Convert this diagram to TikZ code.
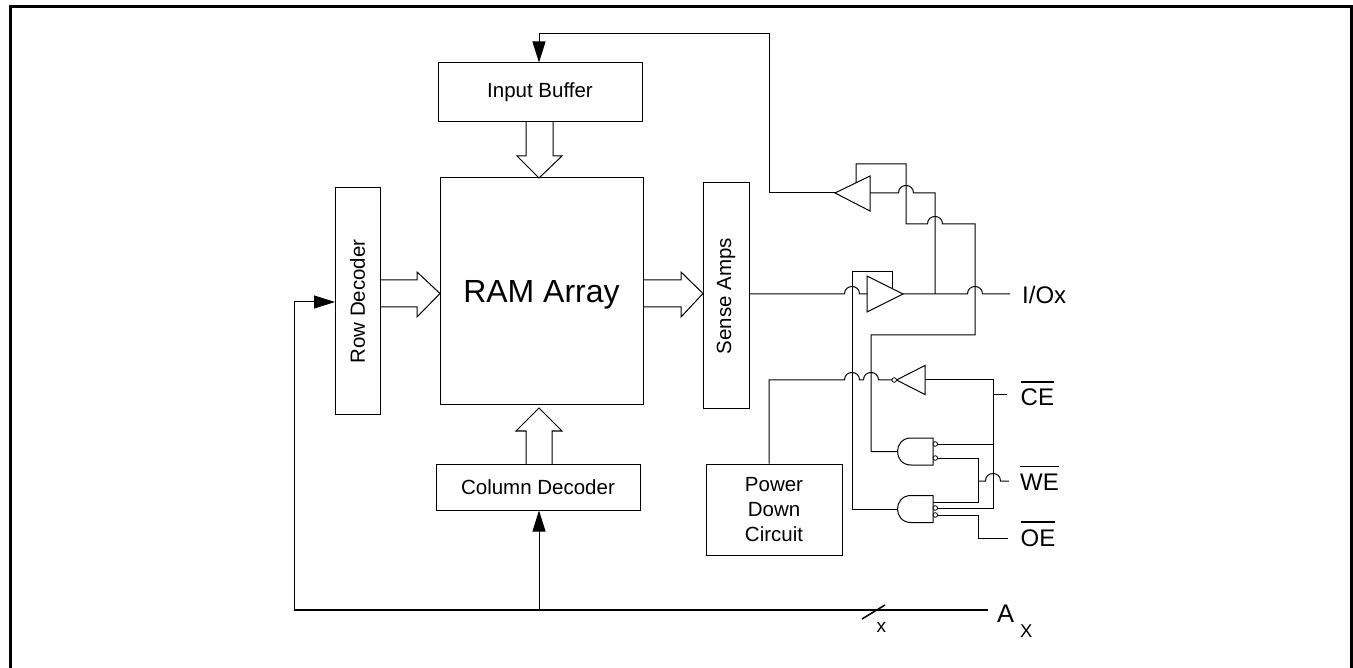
\documentclass[tikz,border=0pt]{standalone}
\usepackage{fontspec}
\setmainfont{Liberation Sans}
\usetikzlibrary{arrows.meta}
\newcommand\obar[1]{\vbox{\hrule height 1.3pt\kern 6.5pt\hbox{#1}}}
\tikzset{
  box/.style={draw, line width=1pt, inner sep=0pt, font=\fontsize{20.5}{25}\selectfont},
  wire/.style={draw, line width=1pt},
  hop/.style args={#1/#2}{insert path={-- ({#1-7.5},#2) .. controls ({#1-7.5},{#2-10}) and ({#1+7.5},{#2-10}) .. ({#1+7.5},#2)}},
  headarrow/.style={-{Triangle[length=21pt,width=13pt]}},
  bubble/.style={draw, fill=white, line width=0.8pt},
  lbl/.style={anchor=base west, inner sep=0pt, font=\fontsize{24}{28}\selectfont},
}
\begin{document}
\begin{tikzpicture}[x=1pt,y=-1pt]
\useasboundingbox (0,0) rectangle (1353,668);
% frame
\draw[line width=3pt] (10.5,668) -- (10.5,7) -- (1351.8,7) -- (1351.8,668);

% blocks
\node[box, minimum width=204pt, minimum height=59pt] (ib) at (540,92.5) {Input Buffer};
\node[box, minimum width=203pt, minimum height=227pt] (ram) at (541.5,291.5) {};
\node[anchor=base, inner sep=0pt, font=\fontsize{32}{36}\selectfont] (ramtxt) at (541.5,302.5) {RAM Array};
\node[box, rotate=90, minimum width=227pt, minimum height=45pt] (rd) at (357.5,301.5) {Row Decoder};
\node[box, rotate=90, minimum width=226pt, minimum height=46pt] (sa) at (726,296) {Sense Amps};
\node[box, minimum width=204pt, minimum height=46pt] (cd) at (538,487) {Column Decoder};
\node[box, minimum width=136pt, minimum height=91pt, align=center] (pd) at (774,509.5) {Power\\Down\\Circuit};

% wide arrows
\draw[wire] (526,122) -- (526,156) -- (517,156) -- (539,178) -- (562,156) -- (553,156) -- (553,122);
\draw[wire] (380,280) -- (417,280) -- (417,272) -- (440,293.5) -- (417,317) -- (417,307) -- (380,307);
\draw[wire] (643,280) -- (681,280) -- (681,272) -- (703,293.5) -- (681,317) -- (681,307) -- (643,307);
\draw[wire] (526,464) -- (526,431) -- (516,431) -- (539,408) -- (562,431) -- (552,431) -- (552,464);

% address bus
\coordinate (busL) at (294,610);
\coordinate (busR) at (988,610);
\draw[line width=2pt] (busL) -- (busR);
\draw[wire, headarrow] (busL) -- (294,302) -- (335,302);
\draw[wire, headarrow] (539,610) -- (539,0 |- cd.south);
\draw[line width=1.5pt] (862,619) -- (885,605);
\node[anchor=base west, inner sep=0pt, font=\fontsize{19}{22}\selectfont] (xlbl) at (876.5,632) {x};
\node[anchor=base west, inner sep=0pt, font=\fontsize{25.5}{30}\selectfont] (alb) at (997,622) {A};
\node[anchor=base west, inner sep=0pt, font=\fontsize{18.5}{22}\selectfont] (xsub) at (1020,637) {X};

% buffers
\draw[wire] (870,176) -- (835,193) -- (870,211) -- cycle;
\draw[wire] (867,276) -- (903,294) -- (867,312) -- cycle;

% feedback to input buffer
\draw[wire, headarrow] (835,193) -- (769,193) -- (769,34) -- (539,34) -- (539,0 |- ib.north);

% sense amps to output buffer
\coordinate (saout) at (749,294);
\draw[wire] (saout) [hop=852/294] -- (867,294);
% output to I/O
\draw[wire] (903,294) [hop=975/294] -- (1010,294);
\draw[wire] (870,193) [hop=906/193] -- (935,193) -- (935,294);

% upper buffer enable
\draw[wire] (856,183) -- (856,164) -- (906,164) -- (906,224) [hop=935/224] -- (975,224) -- (975,335) -- (871,335) -- (871,451.5) -- (898,451.5);
% lower buffer enable
\draw[wire] (892,288.5) -- (892,272) -- (852,272) -- (852,509) -- (898,509);

% gates
\draw[wire] (933,438) -- (911,438) .. controls (893,438) and (893,465) .. (911,465) -- (933,465) -- cycle;
\draw[wire] (933,495.5) -- (911,495.5) .. controls (893,495.5) and (893,522.5) .. (911,522.5) -- (933,522.5) -- cycle;

% inverter
\draw[wire] (925,365.5) -- (896.5,380) -- (925,394.5) -- cycle;
\draw[bubble] (894.2,380) circle[radius=2.3];

% power down
\draw[wire] (769,0 |- pd.north) -- (769,380) [hop=852/380] [hop=871/380] -- (891.9,380);

% CE net
\draw[wire] (925,380) -- (993,380) -- (993,508) -- (937.6,508);
\draw[wire] (993,395) -- (1007,395);
\draw[wire] (937.6,444) -- (993,444);
% WE net
\draw[wire] (937.6,458) -- (978,458) -- (978,502) -- (933,502);
\draw[wire] (978,481) [hop=993/481] -- (1009,481);
% OE net
\draw[wire] (937.6,515) -- (978,515) -- (978,538) -- (1008,538);

% gate bubbles
\draw[bubble] (935.3,444) circle[radius=2.3];
\draw[bubble] (935.3,458) circle[radius=2.3];
\draw[bubble] (935.3,508) circle[radius=2.3];
\draw[bubble] (935.3,515) circle[radius=2.3];

% labels
\node[lbl] (io) at (1022,303.5) {I/Ox};
\node[lbl] (ce) at (1020.5,406) {\obar{CE}};
\node[lbl] (we) at (1020,490) {\obar{WE}};
\node[lbl] (oe) at (1020.5,546) {\obar{OE}};
\end{tikzpicture}
\end{document}
